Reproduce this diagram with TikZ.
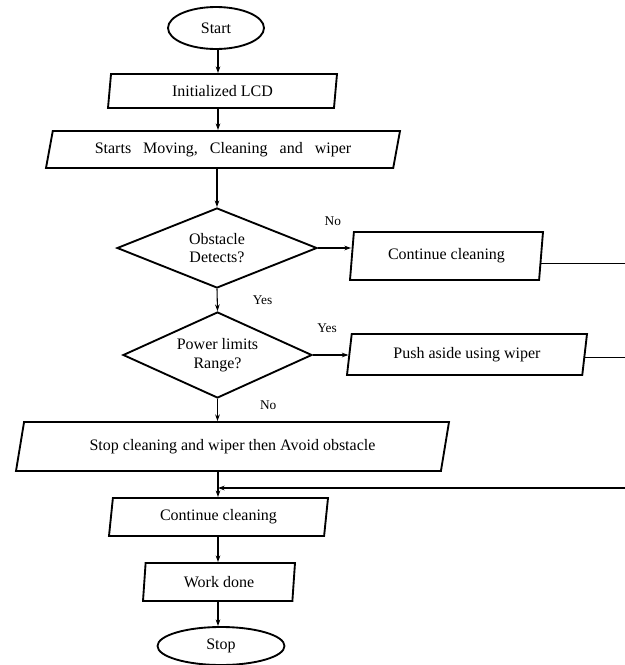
\documentclass[tikz,border=0pt]{standalone}
\usepackage{fontspec}
\setmainfont{Liberation Serif}
\usetikzlibrary{shapes.geometric,arrows.meta,calc}

\begin{document}
\begin{tikzpicture}[x=0.75pt,y=-0.75pt,
    every node/.style={font=\fontsize{12}{14}\selectfont},
    term/.style={ellipse,draw,line width=1.4pt,inner sep=0pt},
    io/.style={trapezium,trapezium stretches body,draw,line width=1.4pt,inner sep=0pt,
        trapezium left angle=#1,trapezium right angle={180-#1}},
    dec/.style={diamond,draw,line width=1.4pt,inner sep=0pt,align=center,aspect=2.5},
    lbl/.style={font=\fontsize{10}{12}\selectfont},
    link/.style={line width=0.8pt},
    arr/.style={link,-{Stealth[length=5pt,width=3.5pt]}}]
    \useasboundingbox (0,0) rectangle (625,665);

    % main column
    \coordinate (spine) at (218,0);
    \node[term,minimum width=72pt,minimum height=31.5pt] (start) at (216,28) {Start};
    \node[io=75,minimum width=171.75pt,minimum height=25.5pt] (lcd) at (222.5,91) {Initialized LCD};
    \node[io=65,minimum width=265.5pt,minimum height=27.75pt] (move) at (223,149.5) {{\spaceskip=.75em Starts Moving, Cleaning and wiper}};
    \node[dec,minimum width=150pt,minimum height=60pt] (obs) at (217,248) {Obstacle\\Detects?};
    \node[dec,minimum width=141.75pt,minimum height=64.5pt] (power) at (217.5,355) {Power limits\\Range?};
    \node[io=61,minimum width=324.75pt,minimum height=36.75pt] (stopc) at (232.5,446.5) {Stop cleaning and wiper then Avoid obstacle};
    \node[io=75,minimum width=164.25pt,minimum height=28.5pt] (cont2) at (218.5,517) {Continue cleaning};
    \node[io=77,minimum width=114pt,minimum height=28.5pt] (done) at (219,582) {Work done};
    \node[term,minimum width=95.25pt,minimum height=28.5pt] (stop) at (221,646) {Stop};

    % side branches
    \node[io=75,minimum width=144.75pt,minimum height=36pt] (cont1) at (446.5,256) {Continue cleaning};
    \node[io=72,minimum width=180pt,minimum height=30.75pt] (push) at (467,354.5) {Push aside using wiper};

    % loose ends at the right edge
    \coordinate (edge) at (630,0);
    \coordinate (back) at (630,488);

    % arrows down the column
    \draw[arr] (start.south -| spine) -- (lcd.north -| spine);
    \draw[arr] (lcd.south -| spine) -- (move.north -| spine);
    \draw[arr] (move.south -| obs.north) -- (obs.north);
    \draw[arr] (obs.south) -- node[lbl,midway,xshift=34pt] {Yes} (power.north);
    \draw[arr] (power.south) -- node[lbl,pos=.3,xshift=38pt] {No} (power.south |- stopc.north);
    \draw[arr] (stopc.south -| spine) -- (cont2.north -| spine);
    \draw[arr] (cont2.south -| spine) -- (done.north -| spine);
    \draw[arr] (done.south -| spine) -- (stop.north -| spine);

    % arrows to the right
    \draw[arr] (obs.east) -- node[lbl,pos=.45,yshift=20pt] {No} (obs.east -| cont1.left side);
    \draw[arr] (power.east) -- node[lbl,pos=.4,yshift=20pt] {Yes} (power.east -| push.left side);
    \draw[link] ($(cont1.top right corner)!.65!(cont1.bottom right corner)$) coordinate (out1) -- (out1 -| edge);
    \draw[link] ($(push.top right corner)!.56!(push.bottom right corner)$) coordinate (out2) -- (out2 -| edge);
    \draw[arr] (back) -- (back -| spine);
\end{tikzpicture}
\end{document}
